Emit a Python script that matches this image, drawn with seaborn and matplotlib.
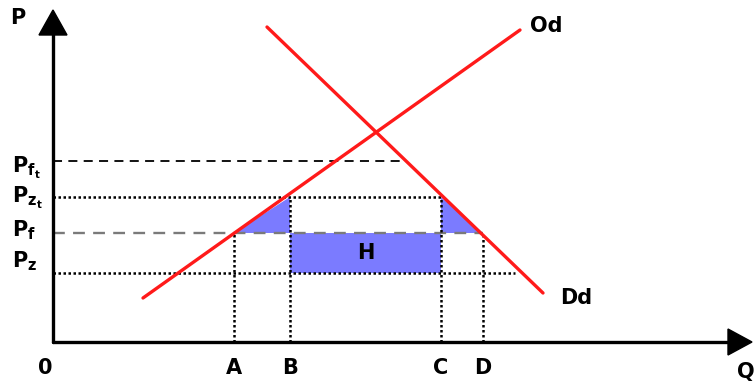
import numpy as np
import pandas as pd
import matplotlib.pyplot as plt
import seaborn as sns

# offre (Od) et demande (Dd) : extrémités des droites
offre_q = [90, 467]
offre_p = [44, 312]
demande_q = [214, 490]
demande_p = [315, 49]

# niveaux de prix
prix_labels = [r'$P_{f_t}$', r'$P_{z_t}$', r'$P_f$', r'$P_z$']
prix = [181, 145, 109, 69]

# quantités
qte_labels = ['A', 'B', 'C', 'D']
qte = [181, 237, 388, 430]

sns.set_theme(style='white')
plt.rcParams['font.family'] = ['DejaVu Sans']
plt.rcParams['font.weight'] = 'bold'
plt.rcParams['text.color'] = 'black'
plt.rcParams['mathtext.fontset'] = 'dejavusans'
plt.rcParams['mathtext.default'] = 'bf'

fig = plt.figure(figsize=(7.54, 3.83), dpi=100)
ax = fig.add_axes([0, 0, 1, 1])
ax.set_xlim(-53, 701)
ax.set_ylim(-41, 342)
ax.axis('off')

df = pd.concat([
    pd.DataFrame({'q': offre_q, 'p': offre_p, 'courbe': 'Od'}),
    pd.DataFrame({'q': demande_q, 'p': demande_p, 'courbe': 'Dd'}),
])
sns.lineplot(data=df, x='q', y='p', units='courbe', estimator=None,
             color='#ff1a1a', lw=2.4, ax=ax, legend=False, zorder=4)

pft, pzt, pf, pz = prix
A, B, C, D = qte
bleu = '#7b7bff'

# zones colorées
ax.fill([A, B, B], [pf, pzt, pf], color=bleu, lw=0, zorder=1)
ax.fill([C, D, C], [pzt, pf, pf], color=bleu, lw=0, zorder=1)
ax.fill_between([B, C], pz, pf, color=bleu, lw=0, zorder=1)
ax.text((B + C) / 2, (pz + pf) / 2, 'H', ha='center', va='center',
        fontsize=15, fontweight='bold', color='black', zorder=5)

dots = (0, (1, 1))
dash = (0, (5, 3.5))
ax.plot([0, 353], [pft, pft], color='black', lw=1.3, ls=dash, zorder=2)
ax.plot([0, C], [pzt, pzt], color='black', lw=1.8, ls=dots, zorder=2)
ax.plot([0, D], [pf, pf], color='#7a7a7a', lw=1.7, ls=dash, zorder=2)
ax.plot([0, 462], [pz, pz], color='black', lw=1.8, ls=dots, zorder=2)
for q, p in zip(qte, [pf, pzt, pzt, pf]):
    ax.plot([q, q], [0, p], color='black', lw=1.8, ls=dots, zorder=2)

# axes avec flèches
ax.plot([0, 0], [0, 310], color='black', lw=2.4, zorder=3)
ax.plot([0, 680], [0, 0], color='black', lw=2.4, zorder=3)
ax.arrow(0, 300, 0, 32, width=0, head_width=28, head_length=25,
         length_includes_head=True, color='black', zorder=3)
ax.arrow(670, 0, 29, 0, width=0, head_width=26, head_length=24,
         length_includes_head=True, color='black', zorder=3)

fs = 15
for lab, p, dy in zip(prix_labels, prix, [-7, -1, 3, 12]):
    ax.text(-41, p + dy, lab, ha='left', va='center', fontsize=fs, color='black')
for lab, q in zip(qte_labels, qte):
    ax.text(q, -26, lab, ha='center', va='center', fontsize=fs,
            fontweight='bold', color='black')
ax.text(-8, -26, '0', ha='center', va='center', fontsize=fs, fontweight='bold')
ax.text(-35, 324, 'P', ha='center', va='center', fontsize=fs, fontweight='bold')
ax.text(684, -30, 'Q', ha='left', va='center', fontsize=fs, fontweight='bold')
ax.text(477, 316, 'Od', ha='left', va='center', fontsize=fs, fontweight='bold')
ax.text(507, 44, 'Dd', ha='left', va='center', fontsize=fs, fontweight='bold')

fig.savefig('out.png', dpi=100, facecolor='white')
